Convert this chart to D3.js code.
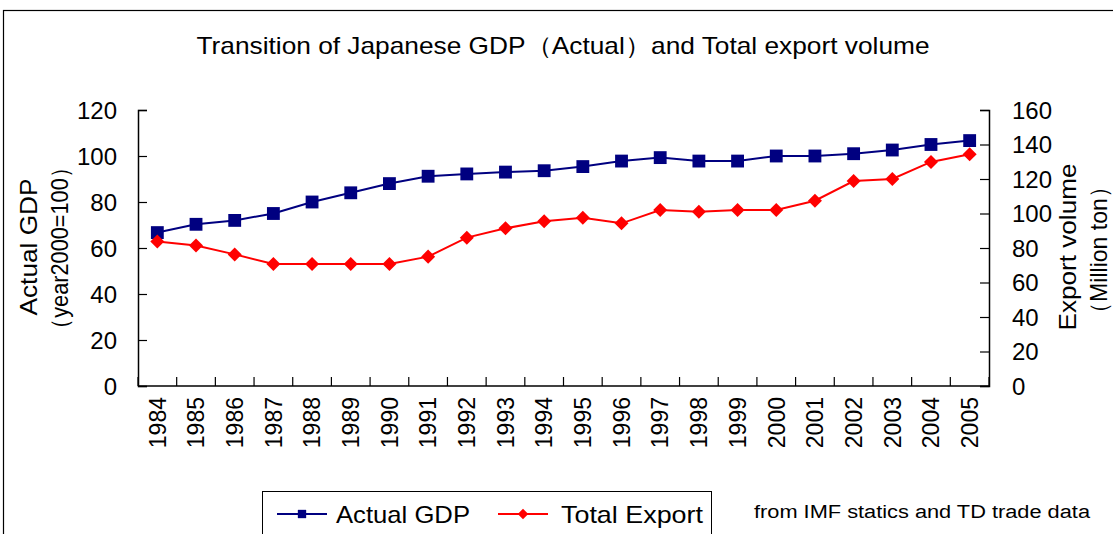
<!doctype html>
<html>
<head>
<meta charset="utf-8">
<title>Japanese GDP and export volume</title>
<script src="https://cdn.jsdelivr.net/npm/d3@7"></script>
<style>
  body { margin: 0; background: #fff; }
  text { font-family: "Liberation Sans", Arial, sans-serif; fill: #000; }
</style>
</head>
<body>
<div id="chart"></div>
<script>
// data
var years = ["1984","1985","1986","1987","1988","1989","1990","1991","1992","1993","1994",
             "1995","1996","1997","1998","1999","2000","2001","2002","2003","2004","2005"];
var gdp = [66.7, 70.3, 72, 75, 80, 84, 88, 91.2, 92.2, 93, 93.6,
           95.4, 97.8, 99.3, 97.8, 97.8, 100, 100, 101, 102.6, 105, 106.7];
var exportVol = [83.7, 81.5, 76.3, 70.7, 70.7, 70.7, 70.7, 75, 86, 91.4, 95.5,
                 97.6, 94.3, 102, 101, 102, 102, 107.4, 118.8, 120, 129.9, 134.3];
var leftTicks = [0, 20, 40, 60, 80, 100, 120];
var rightTicks = [0, 20, 40, 60, 80, 100, 120, 140, 160];

var W = 1113, H = 534;
var plot = {left: 138, right: 989, top: 110, bottom: 386};

var svg = d3.select("#chart").append("svg")
            .attr("width", W)
            .attr("height", H);

// outer frame
svg.append("rect")
   .attr("x", 3.5).attr("y", 10.5)
   .attr("width", W + 10).attr("height", H + 10)
   .attr("fill", "none").attr("stroke", "#000").attr("stroke-width", 1.2);

svg.append("text")
   .attr("x", 563).attr("y", 54)
   .attr("text-anchor", "middle")
   .attr("textLength", 733).attr("lengthAdjust", "spacingAndGlyphs")
   .style("font-size", "24px")
   .text("Transition of Japanese GDP（Actual）and Total export volume");

var x = d3.scaleBand().domain(years).range([plot.left, plot.right]);
var yL = d3.scaleLinear().domain([0, 120]).range([plot.bottom, plot.top]);
var yR = d3.scaleLinear().domain([0, 160]).range([plot.bottom, plot.top]);

// left and right axes, ticks pointing inward
var gl = svg.append("g").attr("transform", "translate(" + plot.left + ",0)")
            .call(d3.axisRight(yL).tickValues(leftTicks).tickSize(9).tickFormat(""));
var gr = svg.append("g").attr("transform", "translate(" + plot.right + ",0)")
            .call(d3.axisLeft(yR).tickValues(rightTicks).tickSize(9).tickFormat(""));
[gl, gr].forEach(function(g){
  g.select(".domain").attr("stroke", "#000").attr("stroke-width", 1.5);
  g.selectAll(".tick line").attr("stroke", "#000").attr("stroke-width", 1.2);
});

svg.append("g").selectAll("text")
   .data(leftTicks).enter().append("text")
   .attr("x", 117).attr("y", function(d){ return yL(d); })
   .attr("dy", "0.36em").attr("text-anchor", "end")
   .style("font-size", "24px")
   .text(function(d){ return d; });

svg.append("g").selectAll("text")
   .data(rightTicks).enter().append("text")
   .attr("x", 1012).attr("y", function(d){ return yR(d); })
   .attr("dy", "0.36em").attr("text-anchor", "start")
   .style("font-size", "24px")
   .text(function(d){ return d; });

// bottom axis: ticks between categories, pointing up
var bounds = years.map(function(d){ return x(d); }).concat([plot.right]);
svg.append("line")
   .attr("x1", plot.left).attr("x2", plot.right)
   .attr("y1", plot.bottom).attr("y2", plot.bottom)
   .attr("stroke", "#000").attr("stroke-width", 1.5);
svg.append("g").selectAll("line")
   .data(bounds).enter().append("line")
   .attr("x1", function(d){ return d; }).attr("x2", function(d){ return d; })
   .attr("y1", plot.bottom).attr("y2", plot.bottom - 9)
   .attr("stroke", "#000").attr("stroke-width", 1.2);

svg.append("g").selectAll("text")
   .data(years).enter().append("text")
   .attr("transform", function(d){
      return "translate(" + (x(d) + x.bandwidth() / 2) + ",397) rotate(-90)";
   })
   .attr("dy", "0.36em").attr("text-anchor", "end")
   .style("font-size", "23px")
   .text(function(d){ return d; });

// axis titles
function vtitle(cx, cy, len, str) {
  svg.append("text")
     .attr("transform", "translate(" + cx + "," + cy + ") rotate(-90)")
     .attr("text-anchor", "middle").attr("dy", "0.36em")
     .attr("textLength", len).attr("lengthAdjust", "spacingAndGlyphs")
     .style("font-size", "24px")
     .text(str);
}
vtitle(28, 247, 137, "Actual GDP");
vtitle(59, 248, 183, "（year2000=100）");
vtitle(1067, 247, 167, "Export volume");
vtitle(1098, 250, 150, "（Million ton）");

// series
var cx = function(d, i){ return x(years[i]) + x.bandwidth() / 2; };
var lineL = d3.line().x(cx).y(function(d){ return yL(d); });
var lineR = d3.line().x(cx).y(function(d){ return yR(d); });

svg.append("path").datum(gdp)
   .attr("d", lineL).attr("fill", "none")
   .attr("stroke", "#000080").attr("stroke-width", 2);
svg.append("path").datum(exportVol)
   .attr("d", lineR).attr("fill", "none")
   .attr("stroke", "#ff0000").attr("stroke-width", 2);

var square = d3.symbol().type(d3.symbolSquare).size(165);
var diamond = d3.symbol().type(d3.symbolDiamond2).size(125);

svg.append("g").selectAll("path")
   .data(gdp).enter().append("path")
   .attr("d", square)
   .attr("transform", function(d, i){ return "translate(" + cx(d, i) + "," + yL(d) + ")"; })
   .attr("fill", "#000080");
svg.append("g").selectAll("path")
   .data(exportVol).enter().append("path")
   .attr("d", diamond)
   .attr("transform", function(d, i){ return "translate(" + cx(d, i) + "," + yR(d) + ")"; })
   .attr("fill", "#ff0000");

// legend
var leg = svg.append("g");
leg.append("rect")
   .attr("x", 262.5).attr("y", 491.5).attr("width", 449).attr("height", 60)
   .attr("fill", "#fff").attr("stroke", "#000").attr("stroke-width", 1);
var items = [
  {name: "Actual GDP", color: "#000080", x0: 277, tx: 336, tw: 134, sym: square, sc: 0.65},
  {name: "Total Export", color: "#ff0000", x0: 498, tx: 561, tw: 142, sym: diamond, sc: 0.75}
];
items.forEach(function(it){
  leg.append("line")
     .attr("x1", it.x0).attr("x2", it.x0 + 50).attr("y1", 514).attr("y2", 514)
     .attr("stroke", it.color).attr("stroke-width", 2);
  leg.append("path").attr("d", it.sym)
     .attr("transform", "translate(" + (it.x0 + 25) + ",514) scale(" + it.sc + ")")
     .attr("fill", it.color);
  leg.append("text")
     .attr("x", it.tx).attr("y", 514).attr("dy", "0.36em")
     .attr("textLength", it.tw).attr("lengthAdjust", "spacingAndGlyphs")
     .style("font-size", "24px")
     .text(it.name);
});

svg.append("text")
   .attr("x", 754).attr("y", 512).attr("dy", "0.36em")
   .attr("textLength", 336).attr("lengthAdjust", "spacingAndGlyphs")
   .style("font-size", "18px")
   .text("from IMF statics and TD trade data");
</script>
</body>
</html>
